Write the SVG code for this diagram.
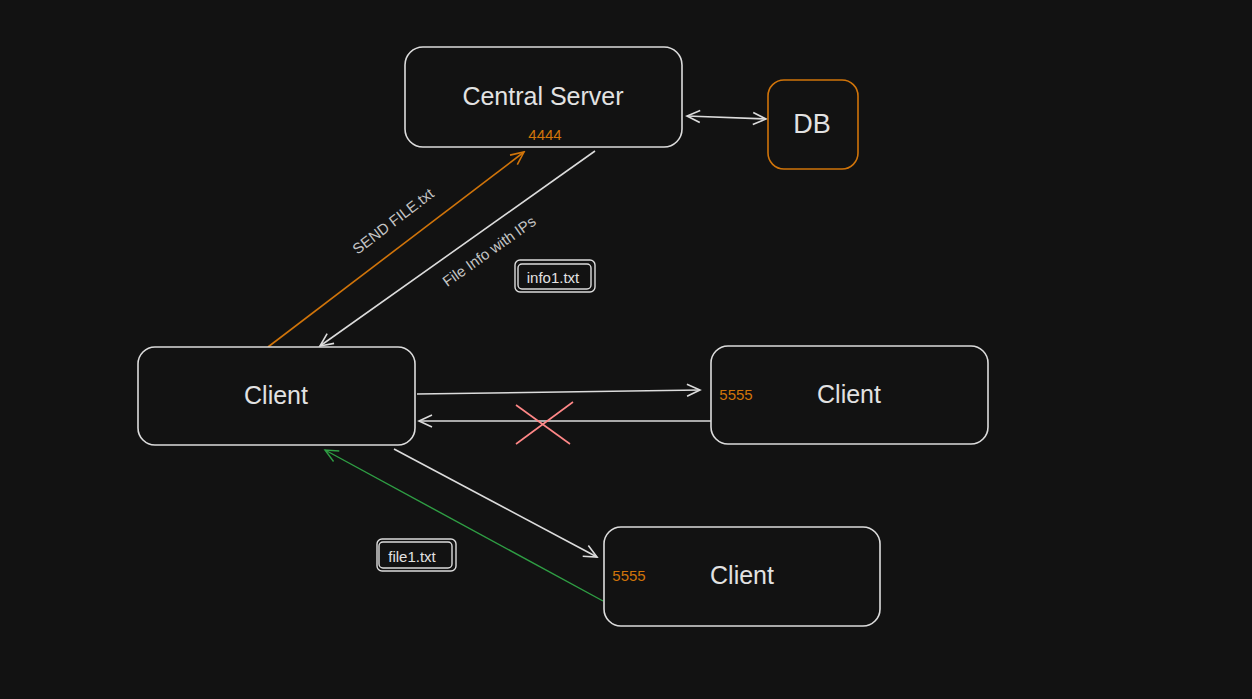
<svg xmlns="http://www.w3.org/2000/svg" width="1252" height="699" viewBox="0 0 1252 699">
<style>
.box{fill:#121212;stroke:#dcdcdc;stroke-width:1.6}
.lbl{font-family:"Liberation Sans",Arial,sans-serif;fill:#e2e2e2;text-anchor:middle;dominant-baseline:central}
.port{font-family:"Liberation Sans",Arial,sans-serif;fill:#d0740a;font-size:15px;text-anchor:middle;dominant-baseline:central}
.ln{fill:none;stroke:#dcdcdc;stroke-width:1.6}
.edge{font-family:"Liberation Sans",Arial,sans-serif;fill:#c4c4c4;font-size:15px;text-anchor:middle;dominant-baseline:central}
</style>
<defs>
<marker id="aw" viewBox="-14 -8 16 16" refX="0" refY="0" markerWidth="16" markerHeight="16" markerUnits="userSpaceOnUse" orient="auto-start-reverse">
<path d="M-13,-6 L0,0 L-13,6" fill="none" stroke="#dcdcdc" stroke-width="1.6"/>
</marker>
<marker id="ao" viewBox="-14 -8 16 16" refX="0" refY="0" markerWidth="16" markerHeight="16" markerUnits="userSpaceOnUse" orient="auto">
<path d="M-13,-6 L0,0 L-13,6" fill="none" stroke="#d0740a" stroke-width="1.6"/>
</marker>
<marker id="ag" viewBox="-14 -8 16 16" refX="0" refY="0" markerWidth="16" markerHeight="16" markerUnits="userSpaceOnUse" orient="auto">
<path d="M-13,-6 L0,0 L-13,6" fill="none" stroke="#2f9e44" stroke-width="1.4"/>
</marker>
</defs>
<rect width="1252" height="699" fill="#121212"/>

<g id="connectors">
<line class="ln" x1="687" y1="116" x2="766" y2="119" marker-start="url(#aw)" marker-end="url(#aw)"/>
<line x1="268" y1="347" x2="524" y2="152" fill="none" stroke="#d0740a" stroke-width="1.6" marker-end="url(#ao)"/>
<line class="ln" x1="595" y1="151" x2="320" y2="346" marker-end="url(#aw)"/>
<line class="ln" x1="417" y1="394" x2="700" y2="390" marker-end="url(#aw)"/>
<line class="ln" x1="711" y1="421" x2="419" y2="421" marker-end="url(#aw)"/>
<line class="ln" x1="394" y1="449" x2="597" y2="557" marker-end="url(#aw)"/>
<line x1="603" y1="601" x2="325" y2="450" fill="none" stroke="#2f9e44" stroke-width="1.4" marker-end="url(#ag)"/>
<text class="edge" transform="translate(393,221) rotate(-37.4)">SEND FILE.txt</text>
<text class="edge" transform="translate(489,251) rotate(-35.4)">File Info with IPs</text>
<g stroke="#ff8787" stroke-width="1.6">
<line x1="516" y1="444" x2="573" y2="402"/>
<line x1="516" y1="405" x2="570" y2="444"/>
</g>
</g>

<g id="central-server">
<rect class="box" x="405" y="47" width="277" height="100" rx="18"/>
<text class="lbl" x="543" y="96" font-size="25">Central Server</text>
<text class="port" x="545" y="134">4444</text>
</g>

<g id="db">
<rect x="768" y="80" width="90" height="89" rx="16" fill="#121212" stroke="#d0740a" stroke-width="1.6"/>
<text class="lbl" x="812" y="124" font-size="27">DB</text>
</g>

<g id="client-1">
<rect class="box" x="138" y="347" width="277" height="98" rx="17"/>
<text class="lbl" x="276" y="395" font-size="25">Client</text>
</g>

<g id="client-2">
<rect class="box" x="711" y="346" width="277" height="98" rx="17"/>
<text class="lbl" x="849" y="394" font-size="25">Client</text>
<text class="port" x="736" y="394">5555</text>
</g>

<g id="client-3">
<rect class="box" x="604" y="527" width="276" height="99" rx="17"/>
<text class="lbl" x="742" y="575" font-size="25">Client</text>
<text class="port" x="629" y="575">5555</text>
</g>

<g id="info1">
<rect x="515" y="260" width="80" height="32" rx="5" fill="none" stroke="#dcdcdc" stroke-width="1.4"/>
<rect x="518" y="264" width="73" height="25" rx="4" fill="none" stroke="#dcdcdc" stroke-width="1.4"/>
<text class="lbl" x="553" y="277" font-size="15">info1.txt</text>
</g>

<g id="file1">
<rect x="377" y="539" width="79" height="32" rx="5" fill="none" stroke="#dcdcdc" stroke-width="1.4"/>
<rect x="379" y="542" width="73" height="26" rx="4" fill="none" stroke="#dcdcdc" stroke-width="1.4"/>
<text class="lbl" x="412" y="556" font-size="15">file1.txt</text>
</g>
</svg>
